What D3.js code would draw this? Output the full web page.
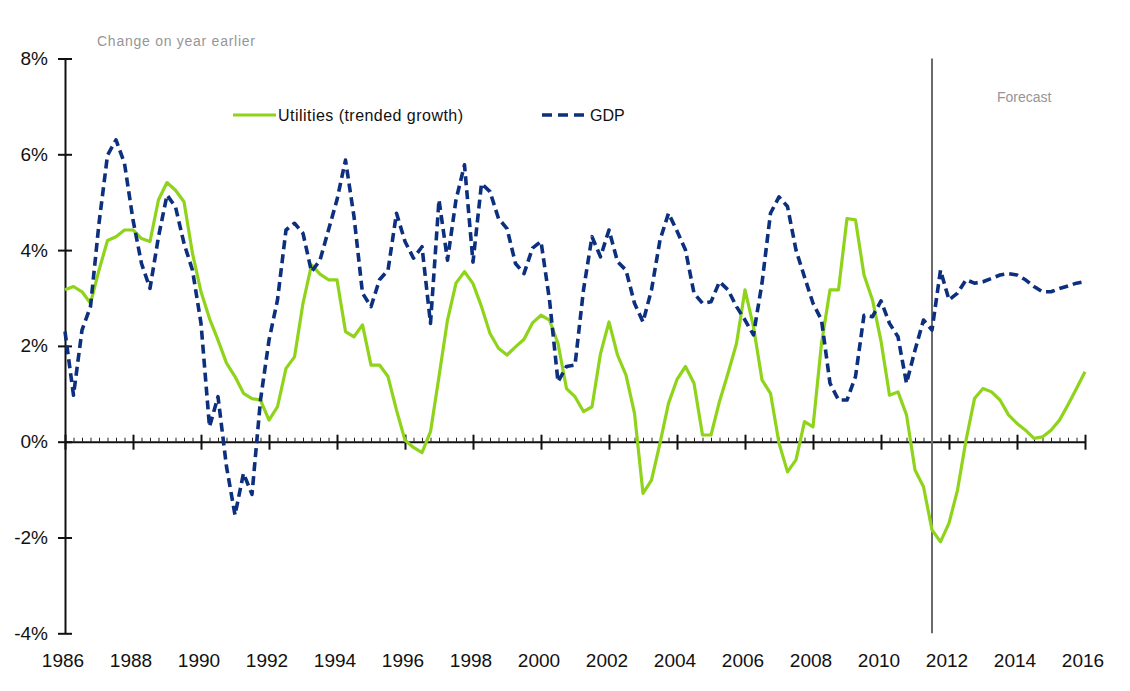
<!DOCTYPE html>
<html>
<head>
<meta charset="utf-8">
<script src="https://cdn.jsdelivr.net/npm/d3@7"></script>
<style>
	body { margin: 0; background: #fff; }
	svg text { font-family: "Liberation Sans", Arial, sans-serif; }
</style>
</head>
<body>
<div class="chart"></div>
<script>
//Data - quarterly, 1986 Q1 to 2016 Q1
const startYear = 1986;
const utilities = [
	3.17, 3.24, 3.13, 2.89, 3.58, 4.2, 4.28, 4.42, 4.42, 4.24, 4.18, 5.05, 5.41, 5.25, 5.01, 3.93,
	3.13, 2.57, 2.12, 1.64, 1.36, 1.01, 0.9, 0.87, 0.45, 0.73, 1.53, 1.77, 2.89, 3.69, 3.5, 3.38,
	3.38, 2.3, 2.19, 2.44, 1.6, 1.6, 1.36, 0.66, 0.03, -0.12, -0.23, 0.21, 1.36, 2.54, 3.31, 3.55,
	3.3, 2.82, 2.26, 1.95, 1.81, 1.98, 2.14, 2.48, 2.64, 2.54, 2.05, 1.11, 0.94, 0.63, 0.73, 1.84,
	2.5, 1.81, 1.39, 0.59, -1.08, -0.8, -0.03, 0.8, 1.3, 1.57, 1.22, 0.14, 0.14, 0.84, 1.43, 2.05,
	3.17, 2.4, 1.29, 1.01, -0.03, -0.63, -0.38, 0.42, 0.31, 2.05, 3.17, 3.17, 4.66, 4.63, 3.48, 2.96,
	2.1, 0.97, 1.04, 0.56, -0.59, -0.94, -1.84, -2.09, -1.7, -1.01, 0.03, 0.9, 1.11, 1.04, 0.87, 0.56,
	0.38, 0.24, 0.07, 0.1, 0.24, 0.45, 0.77, 1.11, 1.46
];
const gdp = [
	2.3, 0.97, 2.33, 2.82, 4.56, 5.98, 6.3, 5.81, 4.63, 3.72, 3.2, 4.28, 5.15, 4.9, 4.14, 3.58,
	2.47, 0.31, 0.94, -0.52, -1.53, -0.66, -1.1, 0.87, 2.12, 2.96, 4.42, 4.56, 4.35, 3.55, 3.79, 4.42,
	5.05, 5.88, 4.7, 3.1, 2.82, 3.38, 3.58, 4.77, 4.18, 3.83, 4.07, 2.47, 5.05, 3.79, 5.05, 5.78,
	3.75, 5.39, 5.22, 4.66, 4.45, 3.72, 3.51, 4.04, 4.18, 2.96, 1.25, 1.57, 1.6, 3.17, 4.28, 3.86,
	4.42, 3.76, 3.58, 2.89, 2.5, 3.17, 4.21, 4.77, 4.4, 4.0, 3.1, 2.89, 2.92, 3.34, 3.17, 2.82,
	2.54, 2.23, 3.31, 4.77, 5.11, 4.91, 4.0, 3.44, 2.89, 2.54, 1.22, 0.87, 0.87, 1.36, 2.64, 2.61,
	2.94, 2.47, 2.19, 1.22, 1.91, 2.54, 2.33, 3.58, 2.96, 3.1, 3.38, 3.31, 3.34, 3.41, 3.48, 3.51,
	3.48, 3.38, 3.24, 3.13, 3.13, 3.2, 3.25, 3.31, 3.34
];
const yTicks = [-4, -2, 0, 2, 4, 6, 8];
const xTickYears = [1986, 1988, 1990, 1992, 1994, 1996, 1998, 2000, 2002, 2004, 2006, 2008, 2010, 2012, 2014, 2016];
const forecastStart = 2011.5;

//SVG
const width = 1130;
const height = 691;
const svg = d3.select('.chart')
	.append('svg')
	.attr('width', width)
	.attr('height', height);

//Scales
const x = d3.scaleLinear().domain([1986, 2016]).range([65, 1085]);
const y = d3.scaleLinear().domain([-4, 8]).range([633.3, 58.5]);
const qx = (d, i) => x(startYear + i / 4);

//Y axis - ticks cross the line
const yAxis = svg.append('g')
	.attr('transform', `translate(${x(1986)},0)`)
	.call(d3.axisLeft(y).tickValues(yTicks).tickFormat(d => d + '%').tickSizeOuter(0));
yAxis.select('.domain').attr('stroke', '#111').attr('stroke-width', 2);
yAxis.selectAll('.tick line').attr('x1', -7).attr('x2', 7).attr('stroke', '#111').attr('stroke-width', 2);
yAxis.selectAll('.tick text')
	.attr('font-size', '19px')
	.attr('fill', '#111')
	.attr('x', -17);

//X axis at zero - minor quarterly ticks
const minorAxis = svg.append('g')
	.attr('transform', `translate(0,${y(0)})`)
	.call(d3.axisTop(x).tickValues(d3.range(0, 121).map(i => startYear + i / 4)).tickFormat('').tickSize(4).tickSizeOuter(0));
minorAxis.select('.domain').attr('stroke', '#111').attr('stroke-width', 2);
minorAxis.selectAll('.tick line').attr('stroke', '#222').attr('stroke-width', 1);

//Major ticks every two years
const majorAxis = svg.append('g')
	.attr('transform', `translate(0,${y(0)})`)
	.call(d3.axisBottom(x).tickValues(xTickYears).tickFormat('').tickSizeOuter(0));
majorAxis.select('.domain').remove();
majorAxis.selectAll('.tick line').attr('y1', -7).attr('y2', 8).attr('stroke', '#111').attr('stroke-width', 2);

//Year labels under the plot
svg.selectAll('text.year')
	.data(xTickYears)
	.enter()
	.append('text')
	.attr('class', 'year')
	.attr('x', d => x(d) - 2)
	.attr('y', 667)
	.attr('text-anchor', 'middle')
	.attr('font-size', '19px')
	.attr('fill', '#111')
	.text(d => d);

//Forecast divider
svg.append('line')
	.attr('x1', x(forecastStart)).attr('x2', x(forecastStart))
	.attr('y1', y(8)).attr('y2', y(-4))
	.attr('stroke', '#6b6b6b')
	.attr('stroke-width', 2);

//Lines
const line = d3.line().x(qx).y(d => y(d));

svg.append('path')
	.datum(utilities)
	.attr('d', line)
	.attr('fill', 'none')
	.attr('stroke', '#8fd41a')
	.attr('stroke-width', 3.2)
	.attr('stroke-linejoin', 'round');

svg.append('path')
	.datum(gdp)
	.attr('d', line)
	.attr('fill', 'none')
	.attr('stroke', '#0c2f7e')
	.attr('stroke-width', 3.6)
	.attr('stroke-dasharray', '9,5')
	.attr('stroke-linejoin', 'round');

//Legend
svg.append('line')
	.attr('x1', 233).attr('x2', 276).attr('y1', 115).attr('y2', 115)
	.attr('stroke', '#8fd41a').attr('stroke-width', 3.2);
svg.append('text')
	.attr('x', 278).attr('y', 121)
	.attr('font-size', '16px')
	.attr('fill', '#111')
	.attr('textLength', 185)
	.text('Utilities (trended growth)');

svg.append('line')
	.attr('x1', 542).attr('x2', 587).attr('y1', 115).attr('y2', 115)
	.attr('stroke', '#0c2f7e').attr('stroke-width', 3.6)
	.attr('stroke-dasharray', '10,6');
svg.append('text')
	.attr('x', 590).attr('y', 121)
	.attr('font-size', '16px')
	.attr('fill', '#111')
	.text('GDP');

//Notes
svg.append('text')
	.attr('x', 97).attr('y', 46)
	.attr('font-family', 'Lato, sans-serif')
	.attr('font-size', '14px')
	.attr('fill', '#969696')
	.attr('textLength', 158)
	.text('Change on year earlier');

svg.append('text')
	.attr('x', 997).attr('y', 102)
	.attr('font-family', 'Lato, sans-serif')
	.attr('font-size', '14px')
	.attr('fill', '#969696')
	.text('Forecast');
</script>
</body>
</html>
